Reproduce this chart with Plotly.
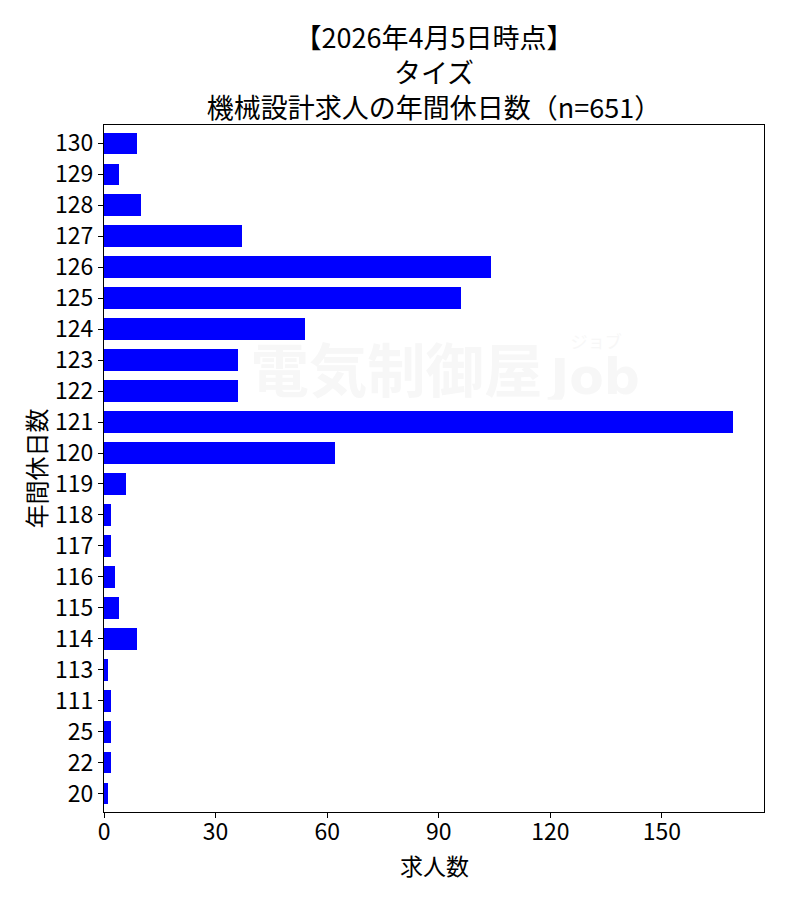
import base64
import plotly.graph_objects as go

# data (bottom to top)
holidays = ['20', '22', '25', '111', '113', '114', '115', '116', '117', '118', '119',
            '120', '121', '122', '123', '124', '125', '126', '127', '128', '129', '130']
counts = [1, 2, 2, 2, 1, 9, 4, 3, 2, 2, 6,
          62, 169, 36, 36, 54, 96, 104, 37, 10, 4, 9]

title_lines = ['【2026年4月5日時点】', 'タイズ', '機械設計求人の年間休日数（n=651）']

FONT = 'Noto Sans CJK JP'

#region Watermark (faint logo drawn behind the bars)
svg = (
    '<svg xmlns="http://www.w3.org/2000/svg" width="400" height="70">'
    '<text x="0" y="62" font-family="Noto Sans CJK JP" font-weight="bold" font-size="58" '
    'fill="#f7f7f7">電気制御屋</text>'
    '<text x="298" y="64" font-family="DejaVu Sans" font-weight="bold" font-size="50" '
    'fill="#f7f7f7">Job</text>'
    '<text x="318" y="18" font-family="Noto Sans CJK JP" font-size="17" '
    'fill="#f7f7f7">ジョブ</text>'
    '</svg>'
)
logo = 'data:image/svg+xml;base64,' + base64.b64encode(svg.encode('utf-8')).decode()
#endregion

fig = go.Figure(go.Bar(
    x=counts,
    y=holidays,
    orientation='h',
    width=0.7,
    marker=dict(color='#0000ff', line=dict(width=0)),
))

fig.add_layout_image(dict(
    source=logo, xref='paper', yref='paper',
    x=0.222, y=0.60, sizex=0.61, sizey=0.102,
    xanchor='left', yanchor='bottom', sizing='contain', layer='below',
))

# x axis title, placed by hand just under the tick labels
fig.add_annotation(
    text='求人数', xref='paper', yref='paper', x=0.5, y=0, yshift=-53,
    xanchor='center', yanchor='middle', showarrow=False, borderpad=0,
    font=dict(family=FONT, size=23, color='black'),
)

fig.update_xaxes(
    range=[0, 177.45],
    tickvals=[0, 30, 60, 90, 120, 150],
    ticks='outside', ticklen=5, tickwidth=1.2, tickcolor='black',
    showline=True, linecolor='black', linewidth=1.2, mirror=True,
    showgrid=False, zeroline=False, automargin=True,
    ticklabelstandoff=-6,
    tickfont=dict(family=FONT, size=23, color='black'),
)
fig.update_yaxes(
    type='category',
    range=[-0.594, 21.594],
    ticks='outside', ticklen=5, tickwidth=1.2, tickcolor='black',
    showline=True, linecolor='black', linewidth=1.2, mirror=True,
    showgrid=False, zeroline=False, automargin=True,
    tickfont=dict(family=FONT, size=23, color='black'),
    title=dict(text='年間休日数', font=dict(family=FONT, size=24, color='black'), standoff=1),
)

fig.update_layout(
    width=800, height=900,
    margin=dict(l=104, r=36, t=125, b=88, autoexpand=False),
    paper_bgcolor='white',
    plot_bgcolor='rgba(0,0,0,0)',
    showlegend=False,
    bargap=0,
    title=dict(
        text='<br>'.join(title_lines),
        font=dict(family=FONT, size=27, color='black'),
        x=0.5, xanchor='center', xref='paper',
        y=1 - 48 / 900, yanchor='top', yref='container',
    ),
)

# drop the default 8px page margin so the figure sits at the window's corner
fig.write_html('out.html', config={'displayModeBar': False},
               post_script="document.body.style.margin='0';")
